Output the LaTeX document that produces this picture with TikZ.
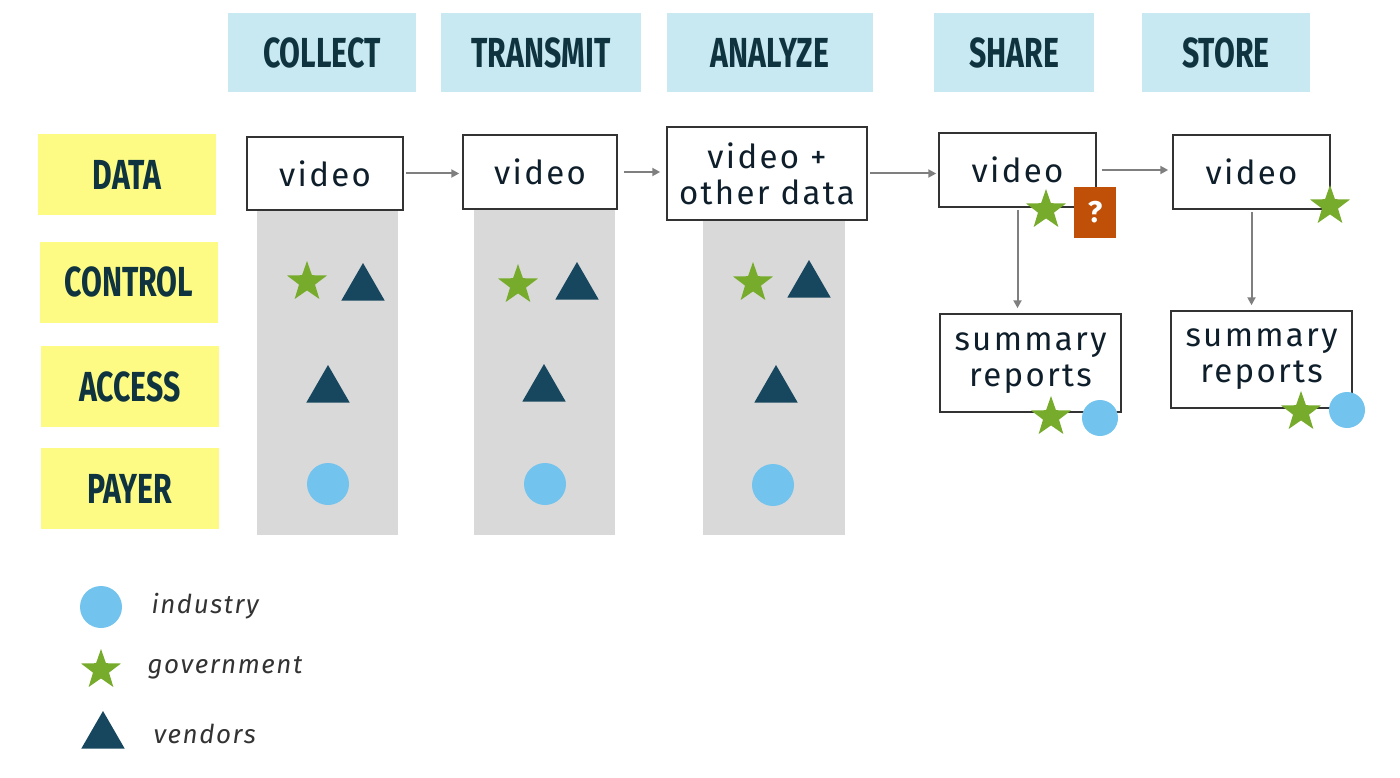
\documentclass[tikz,border=0pt]{standalone}
\usepackage{fontspec}
\setmainfont{Fira Sans}
\newfontfamily\boxfont[LetterSpace=7]{Fira Sans}
\newfontfamily\legfont[LetterSpace=6]{Fira Sans}
\newfontfamily\hand[FakeStretch=0.72]{Fira Sans}
\usetikzlibrary{shapes.geometric,arrows.meta}
\definecolor{hdrblue}{HTML}{C8E9F1}
\definecolor{stickyyellow}{HTML}{FDFB84}
\definecolor{colgray}{HTML}{D9D9D9}
\definecolor{stargreen}{HTML}{76AB2B}
\definecolor{trinavy}{HTML}{17475F}
\definecolor{circblue}{HTML}{72C3EE}
\definecolor{qorange}{HTML}{C05008}
\definecolor{arrgray}{HTML}{7F7F7F}
\definecolor{inkdark}{HTML}{0E1E2A}
\definecolor{handink}{HTML}{0F3440}
\tikzset{
  hdr/.style={fill=hdrblue,draw=none,minimum width=#1,minimum height=79,inner sep=0,
    font=\hand\bfseries\fontsize{42}{44}\selectfont,text=handink},
  rowlab/.style={fill=stickyyellow,draw=none,minimum width=178,minimum height=81,inner sep=0,
    font=\hand\bfseries\fontsize{42}{44}\selectfont,text=handink},
  colbg/.style={fill=colgray,draw=none,inner sep=0},
  databox/.style={draw=black!80,line width=1.5,fill=white,inner sep=0,align=center,
    font=\boxfont\fontsize{33}{36}\selectfont,text=inkdark},
  govstar/.style={star,star points=5,star point ratio=2.5,fill=stargreen,draw=none,
    minimum size=42,inner sep=0},
  vendtri/.style={regular polygon,regular polygon sides=3,fill=trinavy,draw=none,
    minimum size=50,inner sep=0},
  inddot/.style={circle,fill=circblue,draw=none,minimum size=#1,inner sep=0},
  inddot/.default=42,
  flowarr/.style={draw=arrgray,line width=2,-{Triangle[length=8,width=8]}},
  legtext/.style={anchor=west,font=\legfont\itshape\fontsize{26}{30}\selectfont,text=black!80},
}
\begin{document}
\begin{tikzpicture}[x=1pt,y=-1pt]
\useasboundingbox (0,0) rectangle (1400,778);
% headers
\node[hdr=188] (hcollect) at (322,52.5) {COLLECT};
\node[hdr=200] (htransmit) at (541,52.5) {TRANSMIT};
\node[hdr=206] (hanalyze) at (770,52.5) {ANALYZE};
\node[hdr=160] (hshare) at (1014,52.5) {SHARE};
\node[hdr=168] (hstore) at (1226,52.5) {STORE};
% row labels
\node[rowlab] (rdata) at (127,175) {DATA};
\node[rowlab] (rcontrol) at (129,282) {CONTROL};
\node[rowlab] (raccess) at (130,386.5) {ACCESS};
\node[rowlab] (rpayer) at (130,488.5) {PAYER};
% gray columns
\node[colbg,minimum width=141,minimum height=325] (col1) at (327.5,372.5) {};
\node[colbg,minimum width=141,minimum height=325] (col2) at (544.5,372.5) {};
\node[colbg,minimum width=142,minimum height=315] (col3) at (774,377.5) {};
% data boxes
\node[databox,minimum width=156,minimum height=73] (v1) at (325,173.5) {video};
\node[databox,minimum width=154,minimum height=74] (v2) at (540,172) {video};
\node[databox,minimum width=200,minimum height=93] (v3) at (767,173.5) {video +\\other data};
\node[databox,minimum width=157,minimum height=74] (v4) at (1017.5,170) {video};
\node[databox,minimum width=157,minimum height=74] (v5) at (1251.5,172) {video};
\node[databox,minimum width=181,minimum height=98] (s1) at (1030.5,363) {summary\\reports};
\node[databox,minimum width=181,minimum height=97] (s2) at (1261.5,359.5) {summary\\reports};
% arrows
\draw[flowarr,shorten <=2,shorten >=3] (v1.east) -- (v1.east -| v2.west);
\draw[flowarr,shorten <=6,shorten >=6] (v2.east) -- (v2.east -| v3.west);
\draw[flowarr,shorten <=2,shorten >=2] (v3.east) -- (v3.east -| v4.west);
\draw[flowarr,shorten <=5,shorten >=4] (v4.east) -- (v4.east -| v5.west);
\draw[flowarr,shorten <=2,shorten >=5] (v4.south) -- (v4.south |- s1.north);
\draw[flowarr,shorten <=2,shorten >=5] (v5.south) -- (v5.south |- s2.north);
% column 1 markers
\node[govstar] (c1star) at (307,282) {};
\node[vendtri] (c1tri) at (363,288) {};
\node[vendtri] (a1tri) at (328,390) {};
\node[inddot] (p1dot) at (328,484) {};
% column 2 markers
\node[govstar] (c2star) at (518,285) {};
\node[vendtri] (c2tri) at (577,287) {};
\node[vendtri] (a2tri) at (544,389) {};
\node[inddot] (p2dot) at (545,484) {};
% column 3 markers
\node[govstar] (c3star) at (753,283) {};
\node[vendtri] (c3tri) at (809,285) {};
\node[vendtri] (a3tri) at (776,390) {};
\node[inddot] (p3dot) at (773,485) {};
% share / store markers
\node[govstar] (v4star) at (1046,210) {};
\node[fill=qorange,minimum width=42,minimum height=51,inner sep=0,text=white,
  font=\bfseries\fontsize{30}{30}\selectfont] (qbox) at (1095,212.5) {?};
\node[govstar] (v5star) at (1330,206) {};
\node[govstar] (s1star) at (1051,417) {};
\node[inddot=36] (s1dot) at (1100,418) {};
\node[govstar] (s2star) at (1301,412) {};
\node[inddot=36] (s2dot) at (1347,410) {};
% legend
\node[inddot] (ldot) at (101,607) {};
\node[govstar] (lstar) at (101,670) {};
\node[vendtri] (ltri) at (103,736) {};
\node[legtext] (lind) at (148,606) {industry};
\node[legtext] (lgov) at (144,668) {government};
\node[legtext] (lven) at (150,734) {vendors};
\end{tikzpicture}
\end{document}
